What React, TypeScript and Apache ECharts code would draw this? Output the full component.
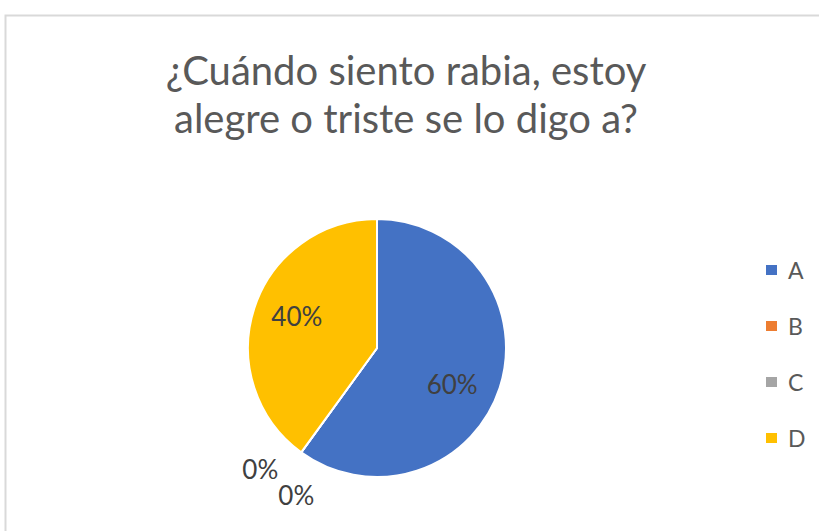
import React, { useEffect, useRef } from "react";
import * as echarts from "echarts";

const titleText = "¿Cuándo siento rabia, estoy\nalegre o triste se lo digo a?";
const categories = ["A", "B", "C", "D"];
const values = [60, 0, 0, 40];
const colors = ["#4472C4", "#ED7D31", "#A5A5A5", "#FFC000"];

export default function App() {
  const ref = useRef<HTMLDivElement>(null);
  useEffect(() => {
    const chart = echarts.init(ref.current!, undefined, { renderer: "svg" });
    const labelOffsets: Record<string, number[]> = {
      A: [11, 15],
      B: [-77, 66],
      C: [-41, 92],
      D: [-16, -11],
    };
    chart.setOption({
      animation: false,
      backgroundColor: "#ffffff",
      title: {
        text: titleText,
        left: 401,
        textAlign: "center",
        top: 41,
        textStyle: {
          fontFamily: "Lato",
          fontSize: 40,
          fontWeight: "normal",
          color: "#595959",
          lineHeight: 48,
        },
      },
      legend: {
        orient: "vertical",
        left: 759,
        top: 253,
        itemWidth: 13,
        itemHeight: 12,
        itemGap: 32,
        icon: "rect",
        data: categories,
        textStyle: {
          fontFamily: "Lato",
          fontSize: 23,
          lineHeight: 24,
          color: "#595959",
          padding: [0, 0, 0, 5],
        },
      },
      graphic: [
        {
          type: "rect",
          shape: { x: 5.5, y: 15.5, width: 900, height: 600 },
          style: { fill: "none", stroke: "#d9d9d9", lineWidth: 2 },
          silent: true,
        },
      ],
      series: [
        {
          type: "pie",
          center: [377, 348],
          radius: [0, 129],
          startAngle: 90,
          clockwise: true,
          avoidLabelOverlap: false,
          labelLayout: { hideOverlap: false },
          itemStyle: { borderColor: "#ffffff", borderWidth: 2 },
          label: {
            show: true,
            position: "inside",
            formatter: "{d}%",
            fontFamily: "Lato",
            fontSize: 26,
            lineHeight: 22,
            color: "#404040",
          },
          labelLine: { show: false },
          data: categories.map((c, i) => ({
            name: c,
            value: values[i],
            itemStyle: { color: colors[i] },
            label: { offset: labelOffsets[c] },
          })),
        },
      ],
    });
    return () => chart.dispose();
  }, []);
  return (
    <div
      ref={ref}
      style={{ position: "fixed", left: 0, top: 0, width: 819, height: 531 }}
    />
  );
}
